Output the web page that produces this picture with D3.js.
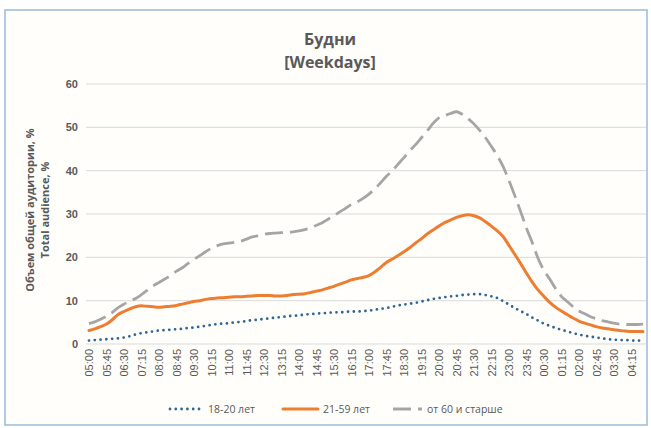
<!DOCTYPE html>
<html>
<head>
<meta charset="utf-8">
<script src="https://cdn.jsdelivr.net/npm/d3@7"></script>
<style>
    body { margin: 0; background: #fff; }
    svg { display: block; font-family: "Open Sans", "Noto Sans", sans-serif; }
</style>
</head>
<body>
<svg id="chart" width="651" height="428"></svg>
<script>
// 15-minute slots from 05:00 to 04:45, every third one is labelled
let labels = ['05:00', '05:45', '06:30', '07:15', '08:00', '08:45', '09:30', '10:15', '11:00', '11:45',
    '12:30', '13:15', '14:00', '14:45', '15:30', '16:15', '17:00', '17:45', '18:30', '19:15', '20:00',
    '20:45', '21:30', '22:15', '23:00', '23:45', '00:30', '01:15', '02:00', '02:45', '03:30', '04:15'];

let yTicks = [0, 10, 20, 30, 40, 50, 60];

let young = [0.8, 0.9, 1.0, 1.1, 1.2, 1.3, 1.5, 1.8, 2.2, 2.5, 2.7, 2.9, 3.1, 3.2, 3.3, 3.4,
    3.5, 3.7, 3.8, 4.0, 4.2, 4.4, 4.6, 4.7, 4.8, 5.0, 5.1, 5.3, 5.5, 5.6, 5.8, 5.9,
    6.1, 6.2, 6.4, 6.5, 6.6, 6.8, 6.9, 7.0, 7.1, 7.2, 7.3, 7.3, 7.4, 7.5, 7.5, 7.6,
    7.7, 7.9, 8.1, 8.3, 8.6, 8.9, 9.1, 9.3, 9.5, 9.8, 10.1, 10.4, 10.6, 10.8, 11.0, 11.1,
    11.3, 11.4, 11.5, 11.5, 11.3, 11.0, 10.6, 9.9, 9.1, 8.3, 7.6, 6.9, 6.1, 5.4, 4.7, 4.2,
    3.7, 3.3, 2.9, 2.5, 2.2, 1.9, 1.7, 1.5, 1.3, 1.1, 1.0, 0.9, 0.9, 0.8, 0.8, 0.8];

let adults = [3.1, 3.5, 4.0, 4.6, 5.6, 6.8, 7.5, 8.1, 8.6, 8.8, 8.7, 8.6, 8.5, 8.6, 8.7, 8.9,
    9.2, 9.5, 9.8, 10.0, 10.3, 10.5, 10.6, 10.7, 10.8, 10.9, 10.9, 11.0, 11.1, 11.2, 11.2, 11.2,
    11.1, 11.1, 11.2, 11.4, 11.5, 11.6, 11.9, 12.2, 12.5, 12.9, 13.3, 13.8, 14.3, 14.8, 15.1, 15.4,
    15.8, 16.6, 17.7, 18.8, 19.6, 20.4, 21.3, 22.2, 23.3, 24.3, 25.4, 26.3, 27.2, 28.0, 28.6, 29.2,
    29.6, 29.8, 29.6, 29.1, 28.2, 27.2, 26.1, 24.8, 22.8, 20.7, 18.6, 16.4, 14.3, 12.5, 11.0, 9.6,
    8.5, 7.6, 6.8, 6.0, 5.3, 4.8, 4.4, 4.0, 3.7, 3.5, 3.3, 3.1, 3.0, 2.9, 2.9, 2.9];

let seniors = [4.7, 5.1, 5.7, 6.4, 7.3, 8.4, 9.2, 9.9, 10.5, 11.4, 12.4, 13.4, 14.2, 15.0, 15.8, 16.8,
    17.6, 18.6, 19.5, 20.4, 21.3, 22.1, 22.7, 23.1, 23.3, 23.5, 23.7, 24.2, 24.7, 25.0, 25.3, 25.5,
    25.6, 25.7, 25.8, 25.9, 26.1, 26.4, 26.8, 27.4, 28.0, 28.8, 29.6, 30.5, 31.3, 32.2, 32.8, 33.6,
    34.6, 35.8, 37.2, 38.7, 40.0, 41.5, 43.0, 44.6, 46.0, 47.6, 49.2, 50.9, 52.2, 52.7, 53.2, 53.6,
    53.0, 52.0, 50.8, 49.3, 47.6, 45.6, 43.5, 41.0, 37.8, 34.3, 30.6, 26.8, 23.4, 19.8, 17.0, 15.0,
    12.8, 11.0, 9.8, 8.6, 7.6, 7.0, 6.3, 5.8, 5.4, 5.1, 4.8, 4.6, 4.5, 4.5, 4.5, 4.6];

let seriesNames = ['18-20 лет', '21-59 лет', 'от 60 и старше'];

const textColor = '#595959';
let svg = d3.select('#chart');

// chart frame
svg.append('rect')
    .attr('x', 5).attr('y', 10)
    .attr('width', 642).attr('height', 415)
    .attr('fill', '#fffefa')
    .attr('stroke', '#9bbbd9')
    .attr('stroke-width', 1.5);

let slots = d3.range(young.length);
let x = d3.scalePoint().domain(slots).range([89, 643]);
let y = d3.scaleLinear().domain([0, 60]).range([344, 84]);

// grid lines
svg.append('g')
    .selectAll('line')
    .data(yTicks)
    .enter().append('line')
    .attr('x1', 86).attr('x2', 646)
    .attr('y1', d => y(d)).attr('y2', d => y(d))
    .attr('stroke', '#d9d9d9')
    .attr('stroke-width', 1);

// y axis
let yAxis = svg.append('g')
    .attr('transform', 'translate(78,0)')
    .call(d3.axisLeft(y).tickValues(yTicks).tickSize(0).tickPadding(0));
yAxis.select('.domain').remove();
yAxis.selectAll('text')
    .attr('fill', textColor)
    .style('font-size', '11px')
    .style('font-weight', 'bold');

// x axis, one label per 45 minutes
let xAxis = svg.append('g')
    .attr('transform', 'translate(0,344)')
    .call(d3.axisBottom(x)
        .tickValues(slots.filter(i => i % 3 === 0))
        .tickFormat(i => labels[i / 3])
        .tickSize(0));
xAxis.select('.domain').remove();
xAxis.selectAll('text')
    .attr('fill', textColor)
    .style('font-size', '11px')
    .attr('text-anchor', 'end')
    .attr('dy', '0.35em')
    .attr('transform', 'translate(0,5) rotate(-90)')
    .attr('x', 0).attr('y', 0);

// titles
let title = svg.append('text')
    .attr('x', 330).attr('text-anchor', 'middle')
    .attr('fill', textColor)
    .style('font-size', '16px')
    .style('font-weight', 'bold');
title.append('tspan').attr('x', 330).attr('y', 45).text('Будни');
title.append('tspan').attr('x', 330).attr('y', 68).text('[Weekdays]');

let yTitle = svg.append('text')
    .attr('transform', 'translate(0,210) rotate(-90)')
    .attr('text-anchor', 'middle')
    .attr('fill', textColor)
    .style('font-size', '11px')
    .style('font-weight', 'bold');
yTitle.append('tspan').attr('x', 0).attr('y', 34).text('Объем общей аудитории, %');
yTitle.append('tspan').attr('x', 0).attr('y', 49).text('Total audience, %');

// lines
let styles = [
    {data: young, color: '#2e6797', width: 2.8, dash: '0 5.8', cap: 'round'},
    {data: adults, color: '#ed7d31', width: 3, dash: null, cap: 'round'},
    {data: seniors, color: '#a5a5a5', width: 2.8, dash: '18 7', cap: 'butt'}
];

let line = d3.line()
    .x((d, i) => x(i))
    .y(d => y(d))
    .curve(d3.curveMonotoneX);

styles.forEach(s => {
    svg.append('path')
        .datum(s.data)
        .attr('d', line)
        .attr('fill', 'none')
        .attr('stroke', s.color)
        .attr('stroke-width', s.width)
        .attr('stroke-dasharray', s.dash)
        .attr('stroke-linecap', s.cap);
});

// legend
let legendX = [170, 283, 393];
let legendW = [33, 35, 29];
let legend = svg.append('g').attr('transform', 'translate(0,409)');
styles.forEach((s, i) => {
    legend.append('line')
        .attr('x1', legendX[i]).attr('x2', legendX[i] + legendW[i])
        .attr('y1', 0).attr('y2', 0)
        .attr('stroke', s.color)
        .attr('stroke-width', s.width)
        .attr('stroke-dasharray', s.dash)
        .attr('stroke-linecap', s.cap);
    legend.append('text')
        .attr('x', legendX[i] + legendW[i] + 5)
        .attr('y', 0).attr('dy', '0.35em')
        .attr('fill', textColor)
        .style('font-size', '10.5px')
        .text(seriesNames[i]);
});
</script>
</body>
</html>
